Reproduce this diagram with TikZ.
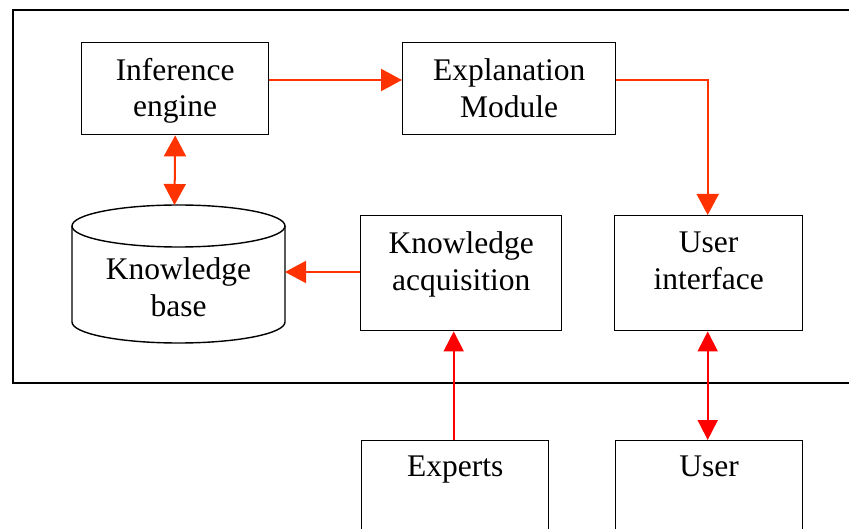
\documentclass[tikz,border=0pt]{standalone}
\usepackage{fontspec}
\setmainfont{Liberation Serif}
\usetikzlibrary{arrows.meta}
\definecolor{orred}{HTML}{FF3300}
\definecolor{pured}{HTML}{FF0000}
\begin{document}
\begin{tikzpicture}[x=1pt,y=-1pt,
  boxnode/.style={draw, line width=1.4pt, rectangle, inner sep=0pt, anchor=north west},
  lbl/.style={inner sep=0pt, anchor=north, align=center, font=\fontsize{31.5}{36.5}\selectfont},
  oar/.style={draw=orred, line width=2pt, >={Triangle[width=22pt,length=21pt]}},
  rar/.style={draw=pured, line width=1.8pt, >={Triangle[width=20pt,length=20pt]}}]
\useasboundingbox (0,0) rectangle (849,529);
\clip (0,0) rectangle (849,529);
\fill[white] (0,0) rectangle (849,529);
% outer frame
\draw[line width=2pt] (870,10) -- (13,10) -- (13,383) -- (870,383);
% boxes
\node[boxnode, minimum width=187pt, minimum height=92pt] (ie) at (81,42) {};
\node[lbl] (iet) at ([yshift=-16pt]ie.north) {Inference\\engine};
\node[boxnode, minimum width=213pt, minimum height=92pt] (em) at (402,42) {};
\node[lbl] (emt) at ([yshift=-16.5pt]em.north) {Explanation\\Module};
\node[boxnode, minimum width=201pt, minimum height=115pt] (ka) at (360,215) {};
\node[lbl] (kat) at ([yshift=-16.5pt]ka.north) {Knowledge\\acquisition};
\node[boxnode, minimum width=188pt, minimum height=115pt] (ui) at (614,215) {};
\node[lbl] (uit) at ([yshift=-17pt]ui.north) {User\\interface};
\node[boxnode, minimum width=187pt, minimum height=130pt] (ex) at (361,440) {};
\node[lbl] (ext) at ([yshift=-16pt]ex.north) {Experts};
\node[boxnode, minimum width=187pt, minimum height=130pt] (us) at (615,440) {};
\node[lbl] (ust) at ([yshift=-16pt]us.north) {User};
% cylinder (knowledge base)
\draw[line width=1.4pt] (72,226) -- (72,322)
  arc[start angle=180, end angle=360, x radius=106.5pt, y radius=21pt] -- (285,226);
\draw[line width=1.4pt] (178.5,226) ellipse[x radius=106.5pt, y radius=21pt];
\node[lbl] (kbt) at (178.5,257.5) {Knowledge\\base};
\coordinate (kbtop) at (174.5,205);
\coordinate (kbr) at (285,272);
\coordinate (y80) at (0,80);
% connectors
\draw[oar,->] (ie.east |- y80) -- (em.west |- y80);
\draw[oar,->] (em.east |- y80) -| ([xshift=-1pt]ui.north);
\draw[oar,<->] (ie.south) -- (kbtop);
\draw[oar,->] (ka.west |- kbr) -- (kbr);
\draw[rar,->] ([xshift=-1.5pt]ex.north) -- ([xshift=-1.5pt]ex.north |- ka.south);
\draw[rar,<->] ([xshift=-1.5pt]us.north) -- ([xshift=-1.5pt]us.north |- ui.south);
\end{tikzpicture}
\end{document}
